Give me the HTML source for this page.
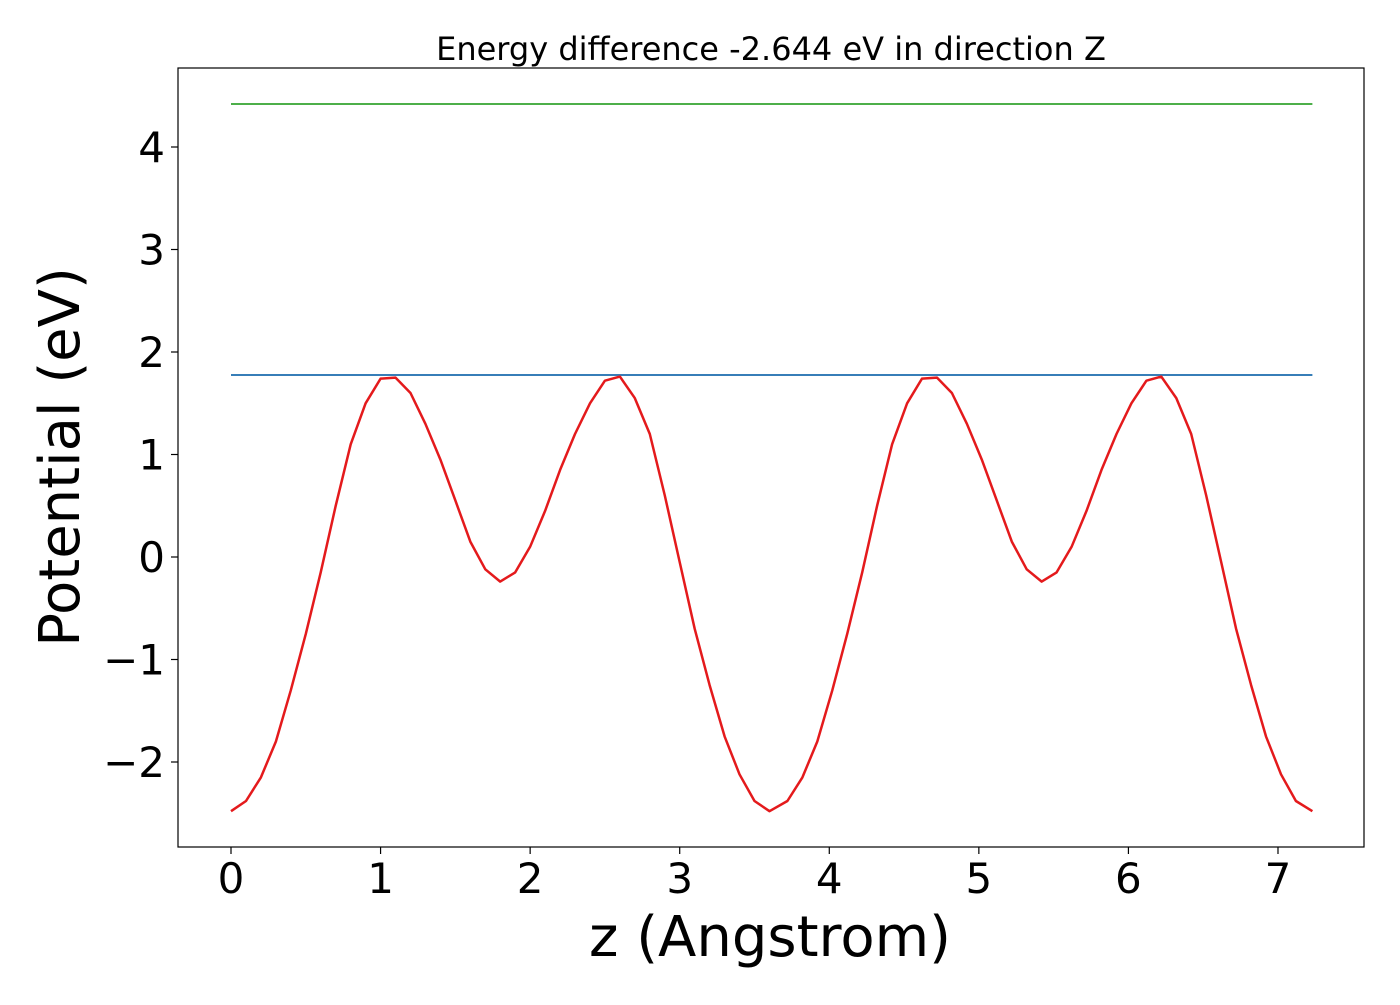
<!DOCTYPE html>
<html><head><meta charset="utf-8"><style>
body{margin:0;background:#fff;}
svg text{font-family:"DejaVu Sans","Liberation Sans",sans-serif;fill:#000;}
</style></head><body>
<svg id="chart" width="1400" height="1000" xmlns="http://www.w3.org/2000/svg">
<rect x="0" y="0" width="1400" height="1000" fill="#fff"/>
<text x="771" y="60" font-size="32" text-anchor="middle">Energy difference -2.644 eV in direction Z</text>
<g id="plot"></g>
<rect x="178" y="68" width="1186" height="779" fill="none" stroke="#000" stroke-width="1.2"/>
<text x="770" y="956" font-size="56" text-anchor="middle">z (Angstrom)</text>
<text transform="translate(79,457) rotate(-90)" font-size="56" text-anchor="middle">Potential (eV)</text>
</svg>
<script>
const zValues=[0,0.1,0.2,0.3,0.4,0.5,0.6,0.7,0.8,0.9,1.0,1.1,1.2,1.3,1.4,1.5,1.6,1.7,1.8,1.9,2.0,2.1,2.2,2.3,2.4,2.5,2.6,2.7,2.8,2.9,3.0,3.1,3.2,3.3,3.4,3.5,3.6,
3.72,3.82,3.92,4.02,4.12,4.22,4.32,4.42,4.52,4.62,4.72,4.82,4.92,5.02,5.12,5.22,5.32,5.42,5.52,5.62,5.72,5.82,5.92,6.02,6.12,6.22,6.32,6.42,6.52,6.62,6.72,6.82,6.92,7.02,7.12,7.23];
const potential=[-2.48,-2.38,-2.15,-1.8,-1.3,-0.75,-0.15,0.5,1.1,1.5,1.74,1.75,1.6,1.3,0.95,0.55,0.15,-0.12,-0.24,-0.15,0.1,0.45,0.85,1.2,1.5,1.72,1.76,1.55,1.2,0.6,-0.05,-0.7,-1.25,-1.75,-2.12,-2.38,-2.48,
-2.38,-2.15,-1.8,-1.3,-0.75,-0.15,0.5,1.1,1.5,1.74,1.75,1.6,1.3,0.95,0.55,0.15,-0.12,-0.24,-0.15,0.1,0.45,0.85,1.2,1.5,1.72,1.76,1.55,1.2,0.6,-0.05,-0.7,-1.25,-1.75,-2.12,-2.38,-2.48];
const vacuumLevel=[4.42];
const fermiLevel=[1.776];
const lineRange=[0,7.23];
const xTicks=[0,1,2,3,4,5,6,7];
const yTicks=[-2,-1,0,1,2,3,4];
const yTickLabels=["\u22122","\u22121","0","1","2","3","4"];

const xs=v=>231+(v-0)*149.57;
const ys=v=>557-v*102.5;
const g=document.getElementById('plot');
const NS="http://www.w3.org/2000/svg";
function mk(t,a){const e=document.createElementNS(NS,t);for(const k in a)e.setAttribute(k,a[k]);g.appendChild(e);return e;}

xTicks.forEach(t=>{
  const l=mk('line',{x1:xs(t),x2:xs(t),y1:847,y2:854,stroke:'#000','stroke-width':1.2});
  
  
  const tx=mk('text',{x:xs(t),y:893,'font-size':42,'text-anchor':'middle'});
  tx.textContent=String(t);
  
  
});
yTicks.forEach((t,i)=>{
  const l=mk('line',{x1:171,x2:178,y1:ys(t),y2:ys(t),stroke:'#000','stroke-width':1.2});
  
  
  const tx=mk('text',{x:165,y:ys(t)+15,'font-size':42,'text-anchor':'end'});
  tx.textContent=yTickLabels[i];
  
  
});
const gl=mk('line',{x1:xs(lineRange[0]),x2:xs(lineRange[1]),y1:ys(vacuumLevel[0]),y2:ys(vacuumLevel[0]),stroke:'#4daf4a','stroke-width':2});


const bl=mk('line',{x1:xs(lineRange[0]),x2:xs(lineRange[1]),y1:ys(fermiLevel[0]),y2:ys(fermiLevel[0]),stroke:'#377eb8','stroke-width':2});


const pts=zValues.map((z,i)=>xs(z).toFixed(1)+','+ys(potential[i]).toFixed(1)).join(' ');
const pl=mk('polyline',{points:pts,fill:'none',stroke:'#e41a1c','stroke-width':2.5,'stroke-linejoin':'round'});


</script>
</body></html>
